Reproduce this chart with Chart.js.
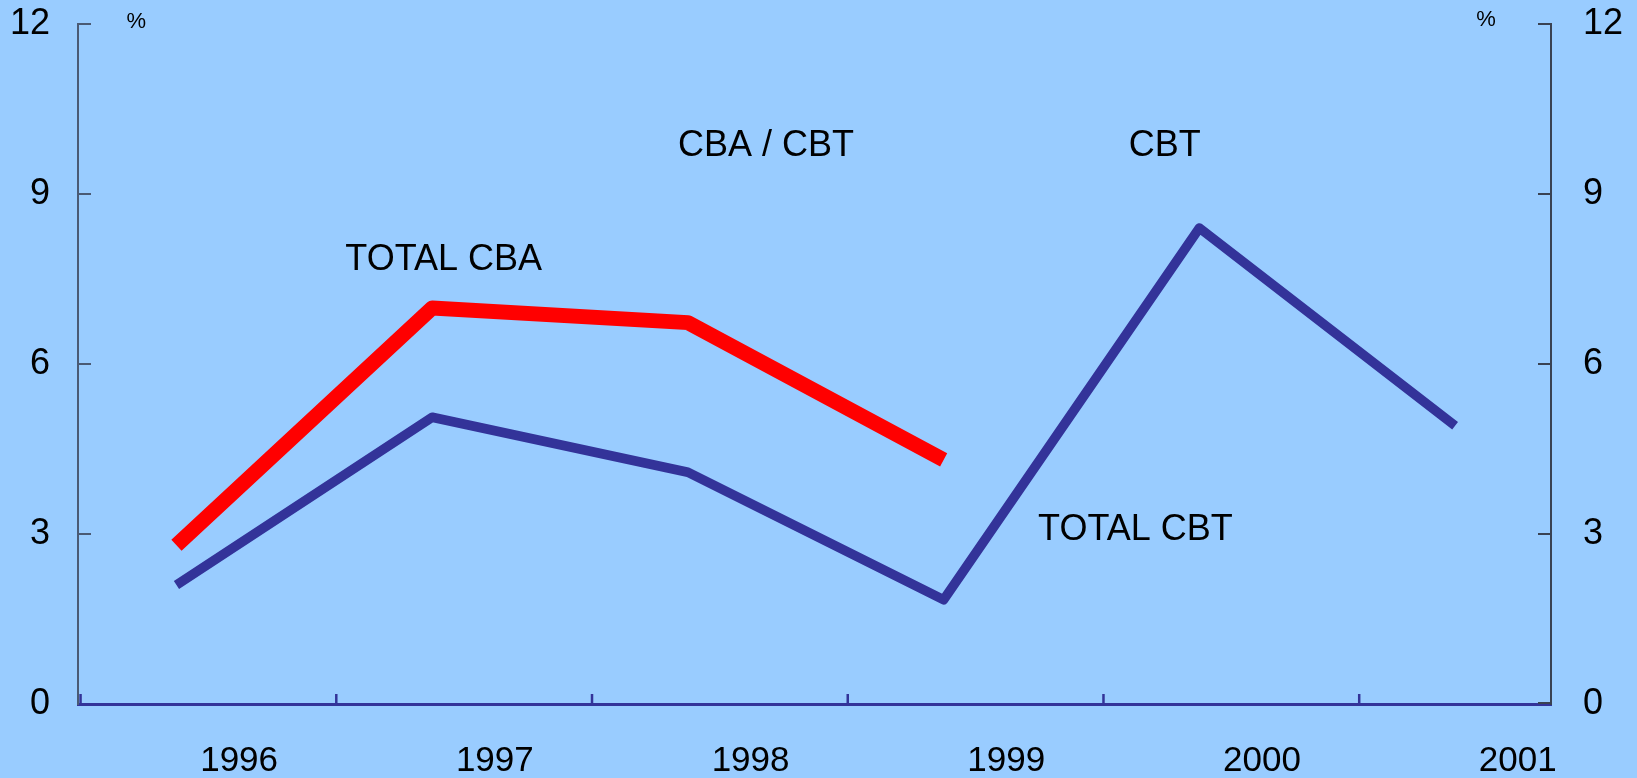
<!DOCTYPE html>
<html>
<head>
<meta charset="utf-8">
<script src="https://cdn.jsdelivr.net/npm/chart.js@4/dist/chart.umd.min.js"></script>
<style>
  html, body { margin: 0; padding: 0; background: #99CCFF; }
  #wrap { width: 1637px; height: 778px; }
</style>
</head>
<body>
<div id="wrap"><canvas id="c" width="1637" height="778"></canvas></div>
<script>
// ---- data ----
const categories = ['1996', '1997', '1998', '1999', '2000', '2001'];
const pointX = [1996.375, 1997.375, 1998.375, 1999.375, 2000.375, 2001.375];
const totalCBA = [2.80, 6.99, 6.73, 4.31];
const totalCBT = [2.10, 5.06, 4.09, 1.84, 8.40, 4.91];
const yTickValues = [0, 3, 6, 9, 12];
const yearBoundaries = [1996, 1997, 1998, 1999, 2000, 2001];
const labelOffset = 0.62;

// annotation texts, positioned in data units
const annotations = [
  { text: 'CBA / CBT', x: 1998.68, y: 9.85, size: 36 },
  { text: 'CBT', x: 2000.24, y: 9.85, size: 36 },
  { text: 'TOTAL CBA', x: 1997.42, y: 7.84, size: 36 },
  { text: 'TOTAL CBT', x: 2000.125, y: 3.07, size: 36 },
  { text: '%', x: 1996.218, y: 12.03, size: 22 },
  { text: '%', x: 2001.496, y: 12.08, size: 22 }
];

const FONT = "'Liberation Sans', Arial, sans-serif";
const BLUE = '#333399';
const RED = '#FF0000';
const AXIS_GRAY = '#4a5a74';
const AXIS_DARK = '#3a4252';

const toPts = (vals) => vals.map((v, i) => ({ x: pointX[i], y: v }));

const bgPlugin = {
  id: 'bg',
  beforeDraw(chart) {
    const ctx = chart.ctx;
    ctx.save();
    ctx.fillStyle = '#99CCFF';
    ctx.fillRect(0, 0, chart.width, chart.height);
    ctx.restore();
  }
};

const decoPlugin = {
  id: 'deco',
  afterDraw(chart) {
    const ctx = chart.ctx;
    const xs = chart.scales.x, ys = chart.scales.y;
    const area = chart.chartArea;
    ctx.save();
    // left inward ticks
    ctx.lineWidth = 2;
    ctx.strokeStyle = AXIS_GRAY;
    yTickValues.forEach(v => {
      if (v === 0) return;
      const py = Math.round(ys.getPixelForValue(v));
      ctx.beginPath();
      ctx.moveTo(area.left, py);
      ctx.lineTo(area.left + 13, py);
      ctx.stroke();
    });
    // right inward ticks
    ctx.strokeStyle = AXIS_DARK;
    yTickValues.forEach(v => {
      const py = Math.round(ys.getPixelForValue(v)) + (v === 0 ? -1 : 0);
      ctx.beginPath();
      ctx.moveTo(area.right - 13, py);
      ctx.lineTo(area.right, py);
      ctx.stroke();
    });
    // x ticks at year boundaries
    ctx.strokeStyle = BLUE;
    ctx.lineWidth = 2.5;
    yearBoundaries.forEach(v => {
      let px = xs.getPixelForValue(v);
      px = Math.max(px, area.left + 1);
      ctx.beginPath();
      ctx.moveTo(px, area.bottom - 10);
      ctx.lineTo(px, area.bottom);
      ctx.stroke();
    });
    // annotations
    ctx.fillStyle = '#000000';
    ctx.textAlign = 'center';
    ctx.textBaseline = 'middle';
    annotations.forEach(a => {
      ctx.font = a.size + 'px ' + FONT;
      ctx.fillText(a.text, xs.getPixelForValue(a.x), ys.getPixelForValue(a.y));
    });
    ctx.restore();
  }
};

function fixY(width) {
  return function (scale) {
    scale.width = width;
    scale.paddingTop = 0;
    scale.paddingBottom = 0;
  };
}

new Chart(document.getElementById('c'), {
  type: 'line',
  data: {
    datasets: [
      {
        label: 'TOTAL CBT',
        data: toPts(totalCBT),
        borderColor: BLUE,
        borderWidth: 9.5,
        pointRadius: 0,
        tension: 0,
        fill: false,
        borderJoinStyle: 'round',
        borderCapStyle: 'butt',
        yAxisID: 'y'
      },
      {
        label: 'TOTAL CBA',
        data: toPts(totalCBA),
        borderColor: RED,
        borderWidth: 15,
        pointRadius: 0,
        tension: 0,
        fill: false,
        borderJoinStyle: 'round',
        borderCapStyle: 'butt',
        yAxisID: 'y'
      }
    ]
  },
  options: {
    responsive: false,
    animation: false,
    events: [],
    layout: { padding: { top: 24, left: 0, right: 0, bottom: 0 } },
    plugins: { legend: { display: false }, tooltip: { enabled: false }, title: { display: false } },
    scales: {
      x: {
        type: 'linear',
        position: 'bottom',
        min: 1995.99,
        max: 2001.75,
        offset: false,
        grid: { display: false, drawTicks: false, tickLength: 0 },
        border: { display: true, color: BLUE, width: 3 },
        afterBuildTicks(scale) {
          scale.ticks = categories.map(c => ({ value: Number(c) + labelOffset }));
        },
        ticks: {
          autoSkip: false,
          maxRotation: 0,
          minRotation: 0,
          padding: 36,
          color: '#000000',
          font: { family: FONT, size: 35 },
          callback: (v) => String(Math.floor(v + 1e-6))
        },
        afterFit(scale) {
          scale.height = 74;
          scale.paddingLeft = 0;
          scale.paddingRight = 0;
        }
      },
      y: {
        position: 'left',
        min: 0,
        max: 12,
        afterBuildTicks(scale) { scale.ticks = yTickValues.map(v => ({ value: v })); },
        grid: { display: false, drawTicks: false, tickLength: 0 },
        border: { display: true, color: AXIS_GRAY, width: 2 },
        ticks: { padding: 28, color: '#000000', font: { family: FONT, size: 36 } },
        afterFit: fixY(78)
      },
      y2: {
        position: 'right',
        min: 0,
        max: 12,
        afterBuildTicks(scale) { scale.ticks = yTickValues.map(v => ({ value: v })); },
        grid: { display: false, drawTicks: false, tickLength: 0 },
        border: { display: true, color: AXIS_DARK, width: 2 },
        ticks: { padding: 32, color: '#000000', font: { family: FONT, size: 36 } },
        afterFit: fixY(86)
      }
    }
  },
  plugins: [bgPlugin, decoPlugin]
});
</script>
</body>
</html>
